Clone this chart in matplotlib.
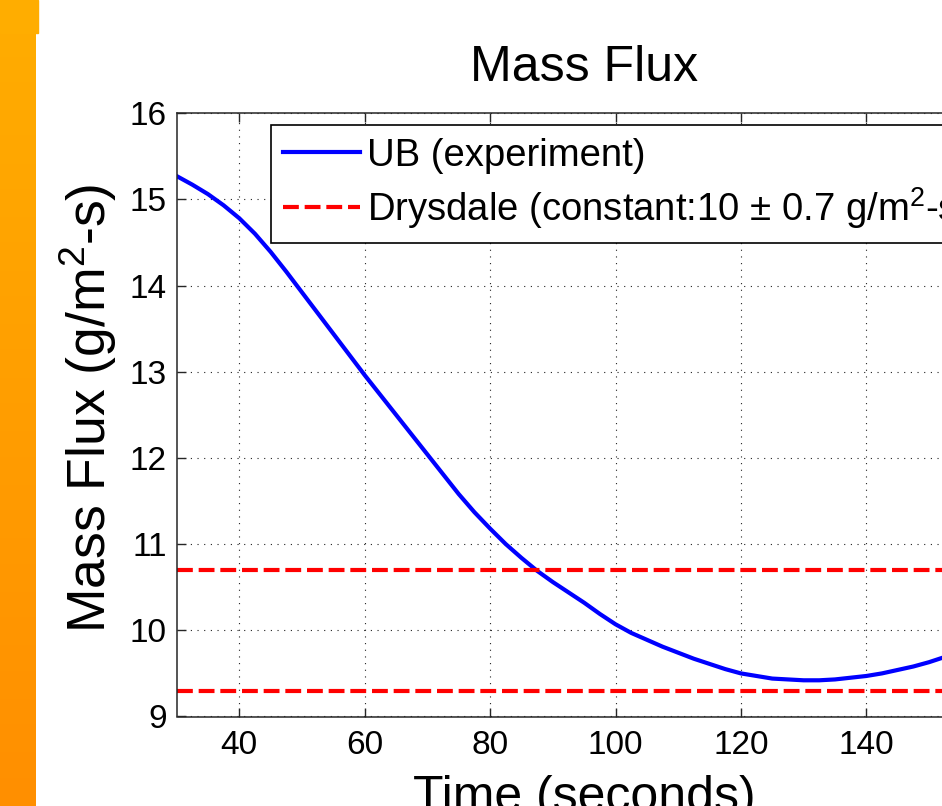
import numpy as np
import matplotlib
matplotlib.use("Agg")
from matplotlib import pyplot as plt
from matplotlib.patches import Rectangle
from matplotlib.colors import LinearSegmentedColormap

# datos (cada 2.5 s)
tiempo = [30, 32.5, 35, 37.5, 40, 42.5, 45, 47.5, 50, 52.5, 55, 57.5, 60, 62.5, 65, 67.5, 70,
          72.5, 75, 77.5, 80, 82.5, 85, 87.5, 90, 92.5, 95, 97.5, 100, 102.5, 105, 107.5, 110,
          112.5, 115, 117.5, 120, 122.5, 125, 127.5, 130, 132.5, 135, 137.5, 140, 142.5, 145,
          147.5, 150, 152.5, 155, 157.5, 160]
flujo = [15.27, 15.17, 15.06, 14.93, 14.78, 14.60, 14.39, 14.16, 13.92, 13.68, 13.44, 13.20, 12.96,
         12.73, 12.50, 12.27, 12.04, 11.81, 11.58, 11.37, 11.18, 11.00, 10.84, 10.69, 10.56, 10.44,
         10.32, 10.19, 10.07, 9.97, 9.89, 9.81, 9.74, 9.67, 9.61, 9.55, 9.50, 9.47, 9.44, 9.43,
         9.42, 9.42, 9.43, 9.45, 9.47, 9.50, 9.54, 9.58, 9.63, 9.69, 9.75, 9.82, 9.89]
drysdale = 10
drysdale_err = 0.7
xlim = (30, 160)
ylim = (9, 16)
xticks = [40, 60, 80, 100, 120, 140]
yticks = [9, 10, 11, 12, 13, 14, 15, 16]

plt.rcParams['font.family'] = ['Liberation Sans', 'DejaVu Sans']
plt.rcParams['mathtext.fontset'] = 'custom'
plt.rcParams['mathtext.rm'] = 'Liberation Sans'
plt.rcParams['mathtext.it'] = 'Liberation Sans:italic'
plt.rcParams['mathtext.bf'] = 'Liberation Sans:bold'

fig = plt.figure(figsize=(9.42, 8.06), dpi=100)

# franja naranja a la izquierda
franja = fig.add_axes([0, 0, 36 / 942, 1])
grad = np.linspace(0, 1, 256).reshape(-1, 1)
cmap = LinearSegmentedColormap.from_list('naranja', ['#FFAD00', '#FF8F00'])
franja.imshow(grad, aspect='auto', cmap=cmap, extent=[0, 1, 0, 1], origin='upper')
franja.axis('off')
fig.patches.append(Rectangle((0, 1 - 33 / 806), 38 / 942, 33 / 806, transform=fig.transFigure,
                             color='#FFAD00', zorder=0))

ax = fig.add_axes([176.6 / 942, 89.5 / 806, 815.1 / 942, 603.4 / 806])
ax.plot(tiempo, flujo, color='#0000FF', lw=3, label='UB (experiment)')
ax.plot(xlim, [drysdale + drysdale_err] * 2, color='#FF0000', lw=3, dashes=(3.8, 1.4),
        label='Drysdale (constant:10 $\\pm$ 0.7 g/m$^{2}$-s)')
ax.plot(xlim, [drysdale - drysdale_err] * 2, color='#FF0000', lw=3, dashes=(3.8, 1.4))

ax.set_xlim(xlim)
ax.set_ylim(ylim)
ax.set_xticks(xticks)
ax.set_yticks(yticks)
ax.tick_params(direction='in', length=6.5, width=1, labelsize=24, pad=7,
               top=True, right=True, colors='#262626', labelcolor='black')
ax.tick_params(axis='x', pad=10)
ax.grid(True, color='#222222', linestyle=(0, (1, 5)), lw=0.8)
for s in ax.spines.values():
    s.set_color('#262626')
    s.set_linewidth(1.1)

ax.set_title('Mass Flux', fontsize=36, pad=23)
ax.set_xlabel('Time (seconds)', fontsize=36, labelpad=10)
ax.set_ylabel('Mass Flux (g/m$^{2}$-s)', fontsize=38.5)
ax.yaxis.set_label_coords(-0.071, 0.511)

leg = ax.legend(loc='upper left', bbox_to_anchor=(270.7 / 942, 1 - 125 / 806),
                bbox_transform=fig.transFigure, borderaxespad=0, fontsize=27.5,
                handlelength=2.0, handletextpad=0.2, borderpad=0.33, labelspacing=0.3,
                fancybox=False, framealpha=1, edgecolor='black')
leg.get_frame().set_linewidth(1.2)

plt.savefig('out.png', dpi=100)
